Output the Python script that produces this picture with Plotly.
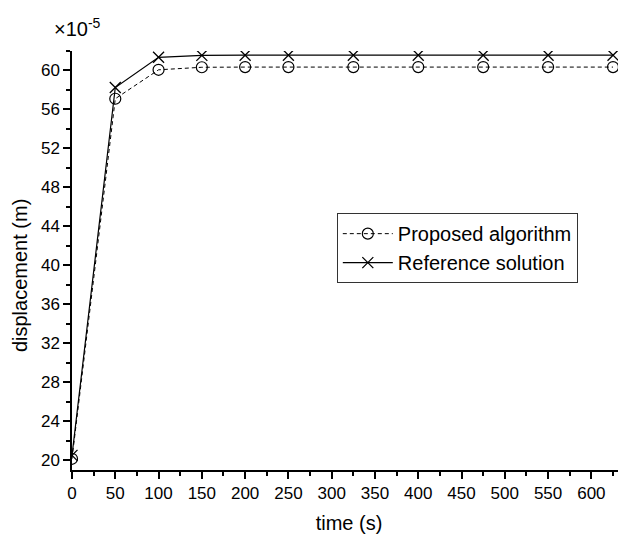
import plotly.graph_objects as go

time_s = [0, 50, 100, 150, 200, 250, 325, 400, 475, 550, 625]
proposed = [20.15, 57.1, 60.07, 60.33, 60.35, 60.35, 60.35, 60.35, 60.35, 60.35, 60.35]
reference = [20.5, 58.25, 61.35, 61.55, 61.57, 61.57, 61.57, 61.57, 61.57, 61.57, 61.57]

x_ticks = list(range(0, 601, 50))
y_ticks = list(range(20, 61, 4))

FONT = "Liberation Sans, Arial, sans-serif"

fig = go.Figure()
fig.add_trace(go.Scatter(
    x=time_s, y=proposed, name="Proposed algorithm",
    mode="lines+markers",
    line=dict(color="black", width=1, dash="4px,3px"),
    marker=dict(symbol="circle-open", size=11, color="black", line=dict(width=1.2, color="black")),
))
fig.add_trace(go.Scatter(
    x=time_s, y=reference, name="Reference solution",
    mode="lines+markers",
    line=dict(color="black", width=1.2),
    marker=dict(symbol="x-thin-open", size=11, color="black", line=dict(width=1.3, color="black")),
))

fig.update_layout(
    width=618, height=526,
    margin=dict(l=64, r=0, t=43, b=64, autoexpand=False),
    paper_bgcolor="white", plot_bgcolor="white",
    font=dict(family=FONT, size=17, color="black"),
    showlegend=True,
    legend=dict(
        x=0.478, y=0.613, xanchor="left", yanchor="top",
        bgcolor="white", bordercolor="#333333", borderwidth=1,
        font=dict(family=FONT, size=20, color="black"),
        tracegroupgap=0, itemwidth=50,
    ),
    xaxis=dict(
        range=[0, 640], tickvals=x_ticks, ticks="outside", ticklen=7, tickwidth=1.5,
        tickcolor="black", showline=True, linecolor="black", linewidth=1.5,
        showgrid=False, zeroline=False,
        minor=dict(ticks="outside", ticklen=4, tickwidth=1.5, dtick=25, tick0=0, tickcolor="black", showgrid=False),
        title=dict(text="time (s)", font=dict(size=20), standoff=22),
        tickfont=dict(size=17),
    ),
    yaxis=dict(
        range=[19, 62], tickvals=y_ticks, ticks="outside", ticklen=7, tickwidth=1.5,
        tickcolor="black", showline=True, linecolor="black", linewidth=1.5,
        showgrid=False, zeroline=False,
        minor=dict(ticks="outside", ticklen=4, tickwidth=1.5, dtick=2, tick0=20, tickcolor="black", showgrid=False),
        tickfont=dict(size=17),
    ),
    annotations=[
        dict(
            text="×10<sup>-5</sup>", xref="paper", yref="paper",
            x=-0.036, y=1.055, xanchor="left", yanchor="middle",
            showarrow=False, font=dict(family=FONT, size=20, color="black"),
        ),
        dict(
            text="displacement (m)", xref="paper", yref="paper",
            x=-0.094, y=0.465, xanchor="center", yanchor="middle", textangle=-90,
            showarrow=False, font=dict(family=FONT, size=20, color="black"),
        ),
    ],
)

fig.write_html("out.html")
